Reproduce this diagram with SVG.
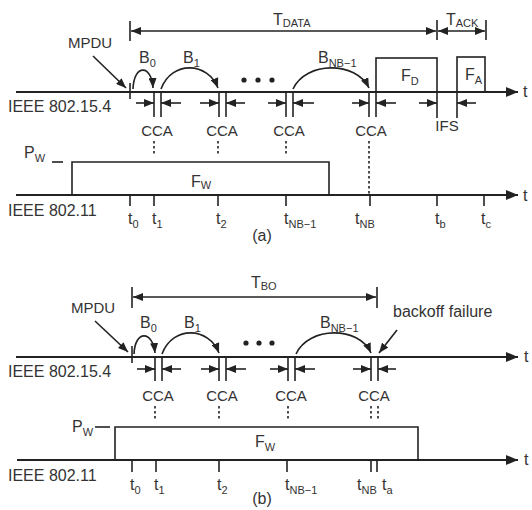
<svg xmlns="http://www.w3.org/2000/svg" width="532" height="510" viewBox="0 0 532 510">
<defs>
<style>
.ln{stroke:#222;stroke-width:1.6;fill:none}
.ax{stroke:#222;stroke-width:2;fill:none}
.bx{stroke:#222;stroke-width:1.6;fill:none}
.dt{stroke:#222;stroke-width:1.6;stroke-dasharray:2.5,2.5;fill:none}
.ar{stroke:#222;stroke-width:1.6;fill:none;marker-end:url(#ah)}
.ar2{stroke:#222;stroke-width:1.6;fill:none;marker-end:url(#ah);marker-start:url(#ah)}
.axa{stroke:#222;stroke-width:2;fill:none;marker-end:url(#ahb)}
text{font-family:"Liberation Sans",Arial,sans-serif;fill:#333;font-size:16px}
.cca{font-size:15px;text-anchor:middle}
.sm{font-size:15px}
.mid{text-anchor:middle}
.sub{font-size:11px}
</style>
<marker id="ah" viewBox="0 0 10 8" refX="10" refY="4" markerWidth="10" markerHeight="8" markerUnits="userSpaceOnUse" orient="auto-start-reverse"><path d="M0,0 L10,4 L0,8 z" fill="#222"/></marker>
<marker id="ahb" viewBox="0 0 12 10" refX="12" refY="5" markerWidth="12" markerHeight="10" markerUnits="userSpaceOnUse" orient="auto"><path d="M0,0 L12,5 L0,10 z" fill="#222"/></marker>
</defs>

<!-- ===================== (a) ===================== -->
<g id="a-axis-154">
<line class="axa" x1="16" y1="92" x2="518" y2="92"/>
<text x="8" y="112">IEEE 802.15.4</text>
<text x="523" y="97">t</text>
</g>
<g id="a-axis-11">
<line class="axa" x1="16" y1="195" x2="518" y2="195"/>
<text x="8" y="216">IEEE 802.11</text>
<text x="523" y="201">t</text>
</g>
<g id="a-tdata">
<line class="ln" x1="130" y1="21" x2="130" y2="41"/>
<line class="ln" x1="437" y1="20" x2="437" y2="40"/>
<line class="ln" x1="486" y1="20" x2="486" y2="40"/>
<text x="273" y="25">T<tspan class="sub" dy="2">DATA</tspan></text>
<text x="446" y="25">T<tspan class="sub" dy="2">ACK</tspan></text>
</g>
<g id="a-mpdu">
<text class="sm" x="68" y="48">MPDU</text>
<line class="ln" x1="130" y1="83" x2="130" y2="99"/>
</g>
<g id="a-blabels">
<text x="139" y="63">B<tspan class="sub" dy="4">0</tspan></text>
<text x="183" y="63">B<tspan class="sub" dy="4">1</tspan></text>
<text x="318" y="63">B<tspan class="sub" dy="4">NB−1</tspan></text>
<circle cx="244" cy="80" r="2.6" fill="#222"/>
<circle cx="258" cy="80" r="2.6" fill="#222"/>
<circle cx="272" cy="80" r="2.6" fill="#222"/>
</g>
<g id="a-cca1">
<line class="ln" x1="154" y1="92" x2="154" y2="117"/>
<line class="ln" x1="161" y1="92" x2="161" y2="117"/>
<text class="cca" x="157" y="136">CCA</text>
<line class="dt" x1="154" y1="141" x2="154" y2="154"/>
</g>
<g id="a-cca2">
<line class="ln" x1="219" y1="92" x2="219" y2="117"/>
<line class="ln" x1="226" y1="92" x2="226" y2="117"/>
<text class="cca" x="222" y="136">CCA</text>
<line class="dt" x1="218" y1="141" x2="218" y2="154"/>
</g>
<g id="a-cca3">
<line class="ln" x1="286" y1="92" x2="286" y2="117"/>
<line class="ln" x1="293" y1="92" x2="293" y2="117"/>
<text class="cca" x="289" y="136">CCA</text>
<line class="dt" x1="286" y1="141" x2="286" y2="154"/>
</g>
<g id="a-cca4">
<line class="ln" x1="369" y1="92" x2="369" y2="117"/>
<line class="ln" x1="376" y1="92" x2="376" y2="117"/>
<text class="cca" x="371" y="136">CCA</text>
<line class="dt" x1="369" y1="141" x2="369" y2="195"/>
</g>
<g id="a-fd">
<rect class="bx" x="376" y="58" width="61" height="34"/>
<text x="401" y="81">F<tspan class="sub" dy="4">D</tspan></text>
</g>
<g id="a-fa">
<rect class="bx" x="457" y="57" width="28" height="35"/>
<text x="465" y="80">F<tspan class="sub" dy="4">A</tspan></text>
</g>
<g id="a-ifs">
<line class="ln" x1="437" y1="92" x2="437" y2="118"/>
<line class="ln" x1="457" y1="92" x2="457" y2="118"/>
<text class="sm mid" x="447" y="131">IFS</text>
</g>
<g id="a-fw">
<path class="bx" d="M72,195 V162 H329 V195"/>
<text x="191" y="187">F<tspan class="sub" dy="2">W</tspan></text>
<text x="24" y="158">P<tspan class="sub" dy="4">W</tspan></text>
<line class="ln" x1="52" y1="162" x2="63" y2="162"/>
</g>
<g id="a-ticks">
<line class="ln" x1="130" y1="195" x2="130" y2="206"/>
<line class="ln" x1="154" y1="195" x2="154" y2="206"/>
<line class="ln" x1="218" y1="195" x2="218" y2="206"/>
<line class="ln" x1="286" y1="195" x2="286" y2="206"/>
<line class="ln" x1="370" y1="195" x2="370" y2="206"/>
<line class="ln" x1="437" y1="195" x2="437" y2="206"/>
<line class="ln" x1="484" y1="195" x2="484" y2="206"/>
<text x="128" y="224">t<tspan class="sub" dy="4">0</tspan></text>
<text x="152" y="224">t<tspan class="sub" dy="4">1</tspan></text>
<text x="216" y="224">t<tspan class="sub" dy="4">2</tspan></text>
<text x="284" y="224">t<tspan class="sub" dy="4">NB−1</tspan></text>
<text x="355" y="224">t<tspan class="sub" dy="4">NB</tspan></text>
<text x="435" y="224">t<tspan class="sub" dy="4">b</tspan></text>
<text x="481" y="224">t<tspan class="sub" dy="4">c</tspan></text>
</g>
<g id="a-caption"><text class="mid" x="262" y="241">(a)</text></g>

<!-- ===================== (b) ===================== -->
<g id="b-axis-154">
<line class="axa" x1="16" y1="357" x2="518" y2="357"/>
<text x="8" y="377">IEEE 802.15.4</text>
<text x="524" y="362">t</text>
</g>
<g id="b-axis-11">
<line class="axa" x1="17" y1="460" x2="518" y2="460"/>
<text x="8" y="481">IEEE 802.11</text>
<text x="524" y="465">t</text>
</g>
<g id="b-tbo">
<line class="ln" x1="132" y1="287" x2="132" y2="308"/>
<line class="ln" x1="377" y1="287" x2="377" y2="308"/>
<text x="251" y="288">T<tspan class="sub" dy="2">BO</tspan></text>
</g>
<g id="b-mpdu">
<text class="sm" x="71" y="313">MPDU</text>
<line class="ln" x1="132" y1="346" x2="132" y2="363"/>
</g>
<g id="b-blabels">
<text x="140" y="328">B<tspan class="sub" dy="4">0</tspan></text>
<text x="184" y="328">B<tspan class="sub" dy="4">1</tspan></text>
<text x="320" y="328">B<tspan class="sub" dy="4">NB−1</tspan></text>
<circle cx="246" cy="343" r="2.6" fill="#222"/>
<circle cx="259" cy="343" r="2.6" fill="#222"/>
<circle cx="272" cy="343" r="2.6" fill="#222"/>
</g>
<g id="b-cca1">
<line class="ln" x1="155" y1="357" x2="155" y2="381"/>
<line class="ln" x1="162" y1="357" x2="162" y2="381"/>
<text class="cca" x="158" y="401">CCA</text>
<line class="dt" x1="155" y1="406" x2="155" y2="419"/>
</g>
<g id="b-cca2">
<line class="ln" x1="219" y1="357" x2="219" y2="381"/>
<line class="ln" x1="226" y1="357" x2="226" y2="381"/>
<text class="cca" x="222" y="401">CCA</text>
<line class="dt" x1="219" y1="406" x2="219" y2="419"/>
</g>
<g id="b-cca3">
<line class="ln" x1="288" y1="357" x2="288" y2="381"/>
<line class="ln" x1="295" y1="357" x2="295" y2="381"/>
<text class="cca" x="291" y="401">CCA</text>
<line class="dt" x1="288" y1="406" x2="288" y2="419"/>
</g>
<g id="b-cca4">
<line class="ln" x1="371" y1="357" x2="371" y2="381"/>
<line class="ln" x1="378" y1="357" x2="378" y2="381"/>
<text class="cca" x="374" y="401">CCA</text>
<line class="dt" x1="371" y1="406" x2="371" y2="419"/>
<line class="dt" x1="378" y1="406" x2="378" y2="419"/>
</g>
<g id="b-failure">
<text x="393" y="317" font-size="17">backoff failure</text>
</g>
<g id="b-fw">
<path class="bx" d="M115,460 V427 H418 V460"/>
<text x="255" y="447">F<tspan class="sub" dy="4">W</tspan></text>
<text x="72" y="432">P<tspan class="sub" dy="4">W</tspan></text>
<line class="ln" x1="95" y1="427" x2="110" y2="427"/>
</g>
<g id="b-ticks">
<line class="ln" x1="132" y1="460" x2="132" y2="472"/>
<line class="ln" x1="156" y1="460" x2="156" y2="472"/>
<line class="ln" x1="219" y1="460" x2="219" y2="472"/>
<line class="ln" x1="287" y1="460" x2="287" y2="472"/>
<line class="ln" x1="371" y1="460" x2="371" y2="472"/>
<line class="ln" x1="377" y1="460" x2="377" y2="472"/>
<text x="130" y="490">t<tspan class="sub" dy="4">0</tspan></text>
<text x="154" y="490">t<tspan class="sub" dy="4">1</tspan></text>
<text x="217" y="490">t<tspan class="sub" dy="4">2</tspan></text>
<text x="285" y="490">t<tspan class="sub" dy="4">NB−1</tspan></text>
<text x="357" y="490">t<tspan class="sub" dy="4">NB</tspan></text>
<text x="382" y="490">t<tspan class="sub" dy="4">a</tspan></text>
</g>
<g id="b-caption"><text class="mid" x="262" y="504">(b)</text></g>

<!-- ===================== connectors ===================== -->
<g id="connectors">
<!-- (a) -->
<line class="ar2" x1="131" y1="31" x2="436" y2="31"/>
<line class="ar2" x1="438" y1="31" x2="485" y2="31"/>
<line class="ar" x1="93" y1="56" x2="126" y2="88"/>
<path class="ar" d="M133,89 C134,63 152,65 153,88"/>
<path class="ar" d="M161,89 C172,60 208,62 218,88"/>
<path class="ar" d="M293,89 C306,61 356,61 369,88"/>
<line class="ar" x1="136" y1="103" x2="154" y2="103"/>
<line class="ar" x1="181" y1="103" x2="161" y2="103"/>
<line class="ar" x1="200" y1="103" x2="219" y2="103"/>
<line class="ar" x1="245" y1="103" x2="226" y2="103"/>
<line class="ar" x1="268" y1="103" x2="286" y2="103"/>
<line class="ar" x1="314" y1="103" x2="293" y2="103"/>
<line class="ar" x1="352" y1="103" x2="369" y2="103"/>
<line class="ar" x1="396" y1="103" x2="376" y2="103"/>
<line class="ar" x1="419" y1="103" x2="437" y2="103"/>
<line class="ar" x1="476" y1="103" x2="457" y2="103"/>
<!-- (b) -->
<line class="ar2" x1="133" y1="297" x2="376" y2="297"/>
<line class="ar" x1="95" y1="321" x2="128" y2="352"/>
<path class="ar" d="M134,354 C135,329 153,331 155,353"/>
<path class="ar" d="M162,354 C173,325 209,327 219,353"/>
<path class="ar" d="M296,354 C309,326 359,326 371,353"/>
<line class="ar" x1="397" y1="330" x2="379" y2="353"/>
<line class="ar" x1="137" y1="369" x2="155" y2="369"/>
<line class="ar" x1="181" y1="369" x2="162" y2="369"/>
<line class="ar" x1="201" y1="369" x2="219" y2="369"/>
<line class="ar" x1="246" y1="369" x2="226" y2="369"/>
<line class="ar" x1="270" y1="369" x2="288" y2="369"/>
<line class="ar" x1="315" y1="369" x2="295" y2="369"/>
<line class="ar" x1="353" y1="369" x2="371" y2="369"/>
<line class="ar" x1="396" y1="369" x2="378" y2="369"/>
</g>
</svg>
